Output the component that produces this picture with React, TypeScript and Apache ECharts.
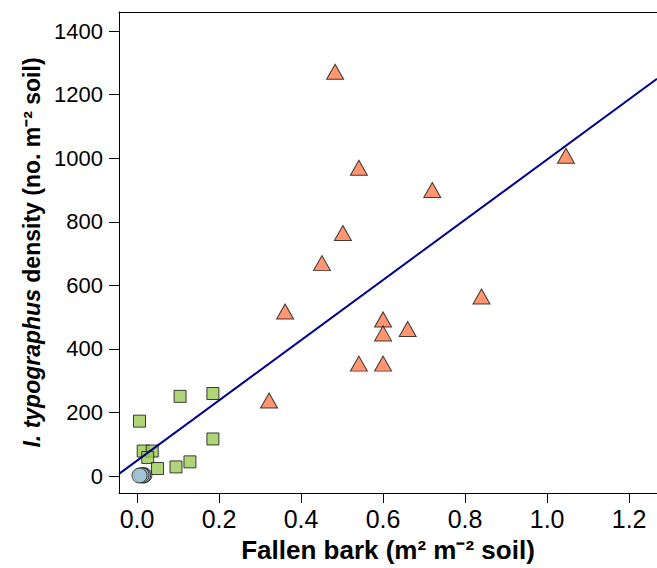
import React, { useEffect, useRef } from "react";
import * as echarts from "echarts";

// Data
const triangleX = [0.483, 0.541, 0.72, 0.502, 0.451, 0.361, 0.84, 0.6, 0.6, 0.66, 0.541, 0.6, 0.322, 1.046];
const triangleY = [1272, 970, 900, 765, 670, 518, 565, 493, 449, 463, 354, 354, 238, 1008];

const squareX = [0.105, 0.185, 0.006, 0.185, 0.015, 0.037, 0.026, 0.05, 0.095, 0.129];
const squareY = [251, 260, 173, 117, 79, 79, 59, 24, 29, 45];

const circleX = [0.018, 0.015, 0.011, 0.006];
const circleY = [3, 2, 3, 2];

// Fitted regression line
const fitIntercept = 49;
const fitSlope = 947;

const xTicks = [0, 0.2, 0.4, 0.6, 0.8, 1.0, 1.2];
const yTicks = [0, 200, 400, 600, 800, 1000, 1200, 1400];

const X_MIN = -0.044;
const X_MAX = 1.268;
const Y_MIN = -53;
const Y_MAX = 1460;

const zip = (xs: number[], ys: number[]) => xs.map((x, i) => [x, ys[i]]);

export default function App() {
  const ref = useRef<HTMLDivElement>(null);
  useEffect(() => {
    if (!ref.current) return;
    const chart = echarts.init(ref.current, null, { renderer: "svg" });
    const font = "'Liberation Sans', Arial, sans-serif";
    chart.setOption({
      animation: false,
      backgroundColor: "#ffffff",
      grid: { left: 119, right: 0, top: 12, bottom: 75, containLabel: false },
      xAxis: [
        {
          type: "value",
          min: X_MIN,
          max: X_MAX,
          position: "bottom",
          splitLine: { show: false },
          axisLine: { show: true, onZero: false, lineStyle: { color: "#000", width: 1 } },
          axisTick: {
            show: true,
            length: 10,
            customValues: xTicks,
            lineStyle: { color: "#000", width: 1 },
          },
          axisLabel: {
            customValues: xTicks,
            margin: 13,
            fontSize: 25,
            color: "#000",
            fontFamily: font,
            formatter: (v: number) => v.toFixed(1),
          },
          name: "Fallen bark (m² m⁻² soil)",
          nameLocation: "middle",
          nameGap: 44,
          nameTextStyle: { fontSize: 26, fontWeight: "bold", color: "#000", fontFamily: font },
        },
        {
          type: "value",
          min: X_MIN,
          max: X_MAX,
          position: "top",
          splitLine: { show: false },
          axisLine: { show: true, onZero: false, lineStyle: { color: "#000", width: 1 } },
          axisTick: { show: false },
          axisLabel: { show: false },
        },
      ],
      yAxis: {
        type: "value",
        min: Y_MIN,
        max: Y_MAX,
        splitLine: { show: false },
        axisLine: { show: true, onZero: false, lineStyle: { color: "#000", width: 1 } },
        axisTick: {
          show: true,
          length: 10,
          customValues: yTicks,
          lineStyle: { color: "#000", width: 1 },
        },
        axisLabel: {
          customValues: yTicks,
          margin: 16,
          fontSize: 22,
          color: "#000",
          fontFamily: font,
          formatter: (v: number) => String(Math.round(v)),
        },
        name: "{i|I. typographus} density (no. m⁻² soil)",
        nameLocation: "middle",
        nameGap: 75,
        nameRotate: 90,
        nameTextStyle: {
          fontSize: 23,
          fontWeight: "bold",
          color: "#000",
          fontFamily: font,
          rich: {
            i: { fontSize: 23, fontWeight: "bold", fontStyle: "italic", color: "#000", fontFamily: font },
          },
        },
      },
      series: [
        {
          type: "line",
          data: [
            [X_MIN, fitIntercept + fitSlope * X_MIN],
            [X_MAX, fitIntercept + fitSlope * X_MAX],
          ],
          showSymbol: false,
          symbol: "none",
          lineStyle: { color: "#00008B", width: 2 },
          z: 3,
        },
        {
          type: "scatter",
          data: zip(triangleX, triangleY),
          symbol: "triangle",
          symbolSize: [17, 15],
          itemStyle: { color: "#FF7A4D", borderColor: "#111", borderWidth: 1 },
          z: 4,
        },
        {
          type: "scatter",
          data: zip(squareX, squareY),
          symbol: "rect",
          symbolSize: 12,
          itemStyle: { color: "#9BCB56", borderColor: "#111", borderWidth: 1 },
          z: 2,
        },
        {
          type: "scatter",
          data: zip(circleX, circleY),
          symbol: "circle",
          symbolSize: 15,
          itemStyle: { color: "#A0C4D3", borderColor: "#111", borderWidth: 1 },
          z: 5,
        },
      ],
    });
    return () => chart.dispose();
  }, []);
  return (
    <div
      ref={ref}
      style={{ position: "absolute", left: 0, top: 0, width: 657, height: 568 }}
    />
  );
}
